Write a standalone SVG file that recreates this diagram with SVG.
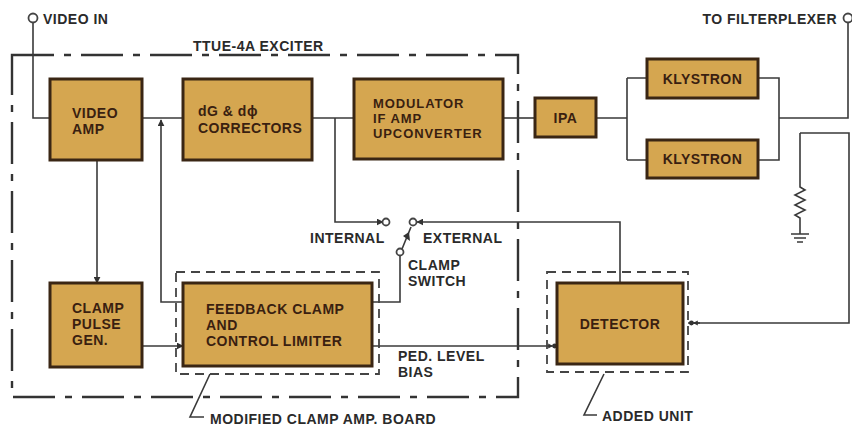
<svg xmlns="http://www.w3.org/2000/svg" width="852" height="426" viewBox="0 0 852 426">
<style>
.box{fill:#d5a650;stroke:#3a2614;stroke-width:3}
.bt{font-family:"Liberation Sans",Arial,sans-serif;font-weight:bold;font-size:14px;letter-spacing:0.5px;fill:#3a1f10}
.bs{font-size:13px;letter-spacing:0.9px}
.lt{font-family:"Liberation Sans",Arial,sans-serif;font-weight:bold;font-size:14px;letter-spacing:0.5px;fill:#2a2a2a}
.ln{fill:none;stroke:#3a3a3a;stroke-width:1.6}
.dash{fill:none;stroke:#444;stroke-width:1.8;stroke-dasharray:9 6}
.dd{fill:none;stroke:#333;stroke-width:2.4;stroke-dasharray:42 10 7 10}
.term{fill:#fff;stroke:#444;stroke-width:1.8}
</style>
<defs>
<marker id="ar" viewBox="0 0 10 10" refX="9" refY="5" markerWidth="7" markerHeight="7" orient="auto" markerUnits="userSpaceOnUse">
<path d="M0,0 L10,5 L0,10 z" fill="#333"/>
</marker>
<marker id="ad" viewBox="0 0 12 10" refX="11" refY="5" markerWidth="10" markerHeight="8" orient="auto" markerUnits="userSpaceOnUse">
<path d="M0,2 L6,5 L0,8 z M5,5 a3,3 0 1,0 6,0 a3,3 0 1,0 -6,0" fill="#333"/>
</marker>
</defs>
<rect width="852" height="426" fill="#fff"/>

<g id="exciter-boundary">
<path class="dd" d="M12,55 L518,55 L518,397 L12,397 Z"/>
<text class="lt" x="193" y="51">TTUE-4A EXCITER</text>
</g>

<g id="connectors">
<path class="ln" d="M33,22 V118 H50"/>
<path class="ln" d="M142,118 H183"/>
<path class="ln" d="M183,302 H161 V120" marker-end="url(#ar)"/>
<path class="ln" d="M312,118 H354"/>
<path class="ln" d="M335,118 V222 H383" marker-end="url(#ar)"/>
<path class="ln" d="M503,118 H535"/>
<path class="ln" d="M596,118 H627 M627,78 V160 M627,78 H647 M627,160 H647"/>
<path class="ln" d="M758,78 H779 V160 H758 M779,118 H848 V22"/>
<path class="ln" d="M800,133 H849 V323 H688"/>
<path class="ln" d="M700,323 H689" marker-end="url(#ad)"/>
<path class="ln" d="M800,133 V187 l5,3 l-10,5 l10,5 l-10,5 l10,5 l-10,5 l5,3 V234"/>
<path class="ln" d="M791,234 H809 M794,238 H806 M797,242 H803"/>
<path class="ln" d="M620,283 V222 H417" marker-end="url(#ar)"/>
<path class="ln" d="M402,249 L411,227" stroke-width="2"/>
<path d="M409,232 L403,236 L410,241 z" fill="#333"/>
<path class="ln" d="M400,256 V302 H372"/>
<path class="ln" d="M97,160 V283" marker-end="url(#ar)"/>
<path class="ln" d="M142,346 H183" marker-end="url(#ar)"/>
<path class="ln" d="M372,346 H557" marker-end="url(#ad)"/>
<path class="ln" d="M210,374 L190,417 H204"/>
<path class="ln" d="M604,374 L584,415 H597"/>
</g>

<g id="video-in">
<circle class="term" cx="33" cy="18" r="4.5"/>
<text class="lt" x="43" y="24">VIDEO IN</text>
</g>
<g id="to-filterplexer">
<circle class="term" cx="848" cy="18" r="4.5"/>
<text class="lt" x="837" y="24" text-anchor="end">TO FILTERPLEXER</text>
</g>

<g id="video-amp">
<rect class="box" x="50" y="79" width="92" height="81"/>
<text class="bt" x="72" y="118">VIDEO</text>
<text class="bt" x="72" y="134">AMP</text>
</g>
<g id="correctors">
<rect class="box" x="183" y="79" width="129" height="81"/>
<text class="bt" x="198" y="116">dG &amp; dϕ</text>
<text class="bt" x="198" y="133">CORRECTORS</text>
</g>
<g id="modulator">
<rect class="box" x="354" y="79" width="149" height="80"/>
<text class="bt bs" x="373" y="108">MODULATOR</text>
<text class="bt bs" x="373" y="123">IF AMP</text>
<text class="bt bs" x="373" y="138">UPCONVERTER</text>
</g>
<g id="ipa">
<rect class="box" x="535" y="98" width="61" height="39"/>
<text class="bt" x="565.5" y="123" text-anchor="middle">IPA</text>
</g>
<g id="klystron-1">
<rect class="box" x="647" y="59" width="111" height="39"/>
<text class="bt" x="702.5" y="84" text-anchor="middle">KLYSTRON</text>
</g>
<g id="klystron-2">
<rect class="box" x="647" y="140" width="111" height="38"/>
<text class="bt" x="702.5" y="164" text-anchor="middle">KLYSTRON</text>
</g>

<g id="clamp-switch">
<circle class="term" cx="386" cy="222" r="3.5"/>
<circle class="term" cx="413" cy="222" r="3.5"/>
<circle class="term" cx="400" cy="252" r="3.5"/>
<text class="lt" x="310" y="243">INTERNAL</text>
<text class="lt" x="423" y="243">EXTERNAL</text>
<text class="lt" x="408" y="270">CLAMP</text>
<text class="lt" x="408" y="286">SWITCH</text>
</g>

<g id="clamp-pulse-gen">
<rect class="box" x="50" y="283" width="92" height="84"/>
<text class="bt" x="72" y="313">CLAMP</text>
<text class="bt" x="72" y="329">PULSE</text>
<text class="bt" x="72" y="345">GEN.</text>
</g>
<g id="feedback-clamp">
<rect class="dash" x="176" y="272" width="203" height="102"/>
<rect class="box" x="183" y="283" width="189" height="83"/>
<text class="bt" x="206" y="314">FEEDBACK CLAMP</text>
<text class="bt" x="206" y="330">AND</text>
<text class="bt" x="206" y="346">CONTROL LIMITER</text>
</g>
<g id="ped-level">
<text class="lt" x="398" y="361">PED. LEVEL</text>
<text class="lt" x="398" y="377">BIAS</text>
</g>
<g id="detector">
<rect class="dash" x="547" y="272" width="141" height="100"/>
<rect class="box" x="557" y="283" width="126" height="81"/>
<text class="bt" x="620" y="329" text-anchor="middle">DETECTOR</text>
</g>
<g id="labels">
<text class="lt" x="210" y="424">MODIFIED CLAMP AMP. BOARD</text>
<text class="lt" x="602" y="421">ADDED UNIT</text>
</g>
</svg>
